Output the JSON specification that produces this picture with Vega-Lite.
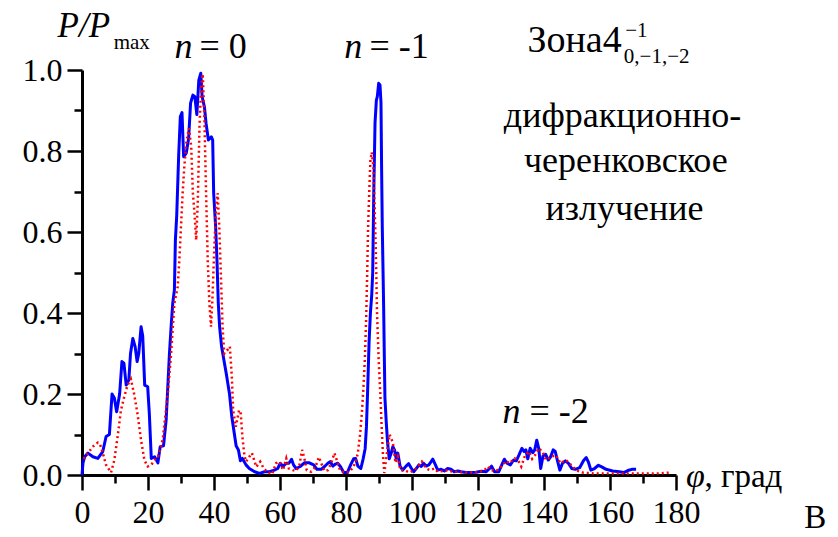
{
  "$schema": "https://vega.github.io/schema/vega-lite/v6.json",
  "width": 594,
  "height": 405,
  "autosize": {"type": "none"},
  "padding": {"left": 82, "top": 70, "right": 162, "bottom": 62},
  "background": "white",
  "config": {"view": {"stroke": null}},
  "datasets": {
    "blue": [
      {"phi":0,"p":0.0},{"phi":0.3,"p":0.03},{"phi":0.8,"p":0.045},{"phi":1.8,"p":0.054},{"phi":3.3,"p":0.045},{"phi":4.8,"p":0.041},{"phi":6.3,"p":0.058},{"phi":7.3,"p":0.095},{"phi":8.3,"p":0.10},{"phi":9.1,"p":0.20},{"phi":9.8,"p":0.19},{"phi":10.5,"p":0.156},{"phi":11.4,"p":0.20},{"phi":12.1,"p":0.28},{"phi":12.7,"p":0.276},{"phi":13.4,"p":0.222},{"phi":14.2,"p":0.235},{"phi":14.7,"p":0.30},{"phi":15.4,"p":0.337},{"phi":16.1,"p":0.317},{"phi":16.7,"p":0.28},{"phi":17.2,"p":0.30},{"phi":17.9,"p":0.366},{"phi":18.4,"p":0.343},{"phi":19.0,"p":0.222},{"phi":19.9,"p":0.218},{"phi":20.4,"p":0.152},{"phi":21.0,"p":0.041},{"phi":22.0,"p":0.045},{"phi":23.0,"p":0.030},{"phi":23.7,"p":0.07},{"phi":24.7,"p":0.072},{"phi":25.5,"p":0.136},{"phi":26.0,"p":0.218},{"phi":26.5,"p":0.30},{"phi":27.0,"p":0.366},{"phi":27.5,"p":0.424},{"phi":28.0,"p":0.457},{"phi":28.3,"p":0.58},{"phi":28.7,"p":0.64},{"phi":29.3,"p":0.79},{"phi":29.8,"p":0.885},{"phi":30.3,"p":0.895},{"phi":30.8,"p":0.786},{"phi":31.6,"p":0.795},{"phi":32.3,"p":0.83},{"phi":32.9,"p":0.918},{"phi":33.6,"p":0.938},{"phi":34.2,"p":0.934},{"phi":34.8,"p":0.89},{"phi":35.4,"p":0.975},{"phi":36.0,"p":0.992},{"phi":36.4,"p":0.934},{"phi":37.1,"p":0.909},{"phi":37.6,"p":0.868},{"phi":38.3,"p":0.827},{"phi":39.2,"p":0.835},{"phi":39.6,"p":0.827},{"phi":39.9,"p":0.696},{"phi":40.5,"p":0.613},{"phi":40.9,"p":0.531},{"phi":41.3,"p":0.424},{"phi":41.7,"p":0.366},{"phi":42.3,"p":0.317},{"phi":43.0,"p":0.284},{"phi":43.7,"p":0.251},{"phi":44.7,"p":0.20},{"phi":45.4,"p":0.144},{"phi":46.2,"p":0.10},{"phi":46.7,"p":0.072},{"phi":47.4,"p":0.062},{"phi":48.0,"p":0.035},{"phi":48.6,"p":0.041},{"phi":49.7,"p":0.025},{"phi":50.7,"p":0.016},{"phi":52.3,"p":0.008},{"phi":53.8,"p":0.004},{"phi":55.3,"p":0.008},{"phi":56.8,"p":0.008},{"phi":58.3,"p":0.012},{"phi":59.3,"p":0.016},{"phi":60.1,"p":0.029},{"phi":60.9,"p":0.021},{"phi":61.9,"p":0.029},{"phi":62.7,"p":0.029},{"phi":63.5,"p":0.039},{"phi":64.1,"p":0.025},{"phi":64.9,"p":0.016},{"phi":66.1,"p":0.021},{"phi":67.4,"p":0.030},{"phi":68.9,"p":0.030},{"phi":70.2,"p":0.025},{"phi":71.2,"p":0.014},{"phi":72.5,"p":0.014},{"phi":73.5,"p":0.021},{"phi":74.5,"p":0.029},{"phi":75.2,"p":0.033},{"phi":76.0,"p":0.022},{"phi":76.8,"p":0.027},{"phi":77.5,"p":0.029},{"phi":78.3,"p":0.021},{"phi":79.3,"p":0.006},{"phi":80.4,"p":0.006},{"phi":81.4,"p":0.025},{"phi":82.3,"p":0.040},{"phi":82.9,"p":0.041},{"phi":83.6,"p":0.022},{"phi":84.5,"p":0.016},{"phi":85.2,"p":0.04},{"phi":85.8,"p":0.065},{"phi":86.2,"p":0.12},{"phi":86.6,"p":0.22},{"phi":87.0,"p":0.33},{"phi":87.4,"p":0.40},{"phi":87.8,"p":0.445},{"phi":88.1,"p":0.50},{"phi":88.4,"p":0.69},{"phi":88.8,"p":0.87},{"phi":89.2,"p":0.925},{"phi":89.5,"p":0.935},{"phi":89.9,"p":0.967},{"phi":90.3,"p":0.963},{"phi":90.6,"p":0.92},{"phi":90.8,"p":0.75},{"phi":91.0,"p":0.61},{"phi":91.4,"p":0.42},{"phi":91.6,"p":0.30},{"phi":91.8,"p":0.19},{"phi":92.2,"p":0.13},{"phi":92.6,"p":0.08},{"phi":93.1,"p":0.04},{"phi":93.7,"p":0.054},{"phi":94.2,"p":0.07},{"phi":94.7,"p":0.062},{"phi":95.2,"p":0.041},{"phi":95.7,"p":0.054},{"phi":96.4,"p":0.021},{"phi":97.2,"p":0.012},{"phi":98.2,"p":0.022},{"phi":99.0,"p":0.028},{"phi":99.7,"p":0.018},{"phi":100.5,"p":0.008},{"phi":101.3,"p":0.016},{"phi":102.1,"p":0.025},{"phi":102.8,"p":0.021},{"phi":103.5,"p":0.029},{"phi":104.3,"p":0.022},{"phi":105.1,"p":0.025},{"phi":105.8,"p":0.033},{"phi":106.3,"p":0.039},{"phi":107.1,"p":0.025},{"phi":107.8,"p":0.012},{"phi":108.8,"p":0.014},{"phi":109.8,"p":0.010},{"phi":110.8,"p":0.016},{"phi":111.8,"p":0.014},{"phi":112.8,"p":0.008},{"phi":113.9,"p":0.010},{"phi":114.9,"p":0.008},{"phi":116.4,"p":0.006},{"phi":117.9,"p":0.006},{"phi":119.4,"p":0.007},{"phi":121.0,"p":0.009},{"phi":122.5,"p":0.008},{"phi":123.5,"p":0.016},{"phi":124.1,"p":0.022},{"phi":125.0,"p":0.008},{"phi":126.3,"p":0.008},{"phi":127.2,"p":0.025},{"phi":128.0,"p":0.039},{"phi":128.8,"p":0.029},{"phi":129.8,"p":0.025},{"phi":130.8,"p":0.037},{"phi":131.6,"p":0.035},{"phi":132.4,"p":0.049},{"phi":133.3,"p":0.066},{"phi":134.0,"p":0.058},{"phi":134.5,"p":0.062},{"phi":135.1,"p":0.040},{"phi":135.8,"p":0.066},{"phi":136.6,"p":0.055},{"phi":137.2,"p":0.062},{"phi":137.8,"p":0.086},{"phi":138.4,"p":0.066},{"phi":139.0,"p":0.016},{"phi":139.7,"p":0.047},{"phi":140.5,"p":0.051},{"phi":141.3,"p":0.037},{"phi":142.0,"p":0.045},{"phi":142.8,"p":0.062},{"phi":143.4,"p":0.058},{"phi":144.1,"p":0.035},{"phi":144.8,"p":0.012},{"phi":145.6,"p":0.029},{"phi":146.5,"p":0.035},{"phi":147.5,"p":0.028},{"phi":148.4,"p":0.016},{"phi":149.5,"p":0.014},{"phi":150.8,"p":0.018},{"phi":152.0,"p":0.036},{"phi":152.8,"p":0.043},{"phi":153.5,"p":0.031},{"phi":154.2,"p":0.012},{"phi":155.3,"p":0.016},{"phi":156.5,"p":0.024},{"phi":157.5,"p":0.020},{"phi":158.8,"p":0.014},{"phi":160.8,"p":0.010},{"phi":162.8,"p":0.008},{"phi":164.2,"p":0.006},{"phi":165.4,"p":0.011},{"phi":166.6,"p":0.014},{"phi":167.9,"p":0.014}
    ],
    "red": [
      {"phi":0.5,"p":0.04},{"phi":1.8,"p":0.054},{"phi":3.3,"p":0.07},{"phi":4.8,"p":0.08},{"phi":5.5,"p":0.075},{"phi":6.3,"p":0.054},{"phi":7.3,"p":0.025},{"phi":8.8,"p":0.006},{"phi":9.8,"p":0.037},{"phi":10.8,"p":0.095},{"phi":11.8,"p":0.16},{"phi":12.8,"p":0.193},{"phi":13.8,"p":0.222},{"phi":14.8,"p":0.237},{"phi":15.8,"p":0.20},{"phi":16.8,"p":0.152},{"phi":17.9,"p":0.086},{"phi":18.9,"p":0.037},{"phi":19.9,"p":0.021},{"phi":21.0,"p":0.025},{"phi":22.0,"p":0.037},{"phi":23.0,"p":0.045},{"phi":23.7,"p":0.062},{"phi":24.5,"p":0.09},{"phi":25.0,"p":0.128},{"phi":26.0,"p":0.20},{"phi":27.0,"p":0.30},{"phi":28.0,"p":0.424},{"phi":29.0,"p":0.465},{"phi":29.5,"p":0.531},{"phi":30.0,"p":0.613},{"phi":30.5,"p":0.696},{"phi":31.0,"p":0.761},{"phi":31.7,"p":0.827},{"phi":32.4,"p":0.856},{"phi":33.1,"p":0.81},{"phi":33.6,"p":0.696},{"phi":34.1,"p":0.646},{"phi":34.6,"p":0.58},{"phi":35.1,"p":0.679},{"phi":35.6,"p":0.86},{"phi":36.1,"p":0.959},{"phi":36.6,"p":0.99},{"phi":37.1,"p":0.877},{"phi":37.6,"p":0.696},{"phi":38.1,"p":0.531},{"phi":38.6,"p":0.424},{"phi":39.1,"p":0.366},{"phi":39.6,"p":0.449},{"phi":40.1,"p":0.564},{"phi":40.6,"p":0.654},{"phi":41.1,"p":0.696},{"phi":41.6,"p":0.613},{"phi":42.1,"p":0.49},{"phi":42.6,"p":0.366},{"phi":43.1,"p":0.30},{"phi":44.1,"p":0.309},{"phi":44.8,"p":0.317},{"phi":45.4,"p":0.243},{"phi":45.8,"p":0.16},{"phi":46.6,"p":0.119},{"phi":47.6,"p":0.16},{"phi":48.1,"p":0.152},{"phi":48.6,"p":0.095},{"phi":49.2,"p":0.049},{"phi":49.7,"p":0.033},{"phi":50.7,"p":0.045},{"phi":51.5,"p":0.054},{"phi":52.8,"p":0.02},{"phi":54.0,"p":0.033},{"phi":55.1,"p":0.016},{"phi":56.1,"p":0.008},{"phi":57.6,"p":0.002},{"phi":58.8,"p":0.029},{"phi":59.8,"p":0.033},{"phi":60.9,"p":0.012},{"phi":61.9,"p":0.041},{"phi":62.7,"p":0.016},{"phi":63.9,"p":0.012},{"phi":64.9,"p":0.010},{"phi":65.9,"p":0.025},{"phi":66.7,"p":0.062},{"phi":67.4,"p":0.041},{"phi":68.1,"p":0.012},{"phi":69.4,"p":0.008},{"phi":70.8,"p":0.021},{"phi":71.8,"p":0.044},{"phi":72.5,"p":0.029},{"phi":73.5,"p":0.010},{"phi":74.5,"p":0.012},{"phi":75.5,"p":0.029},{"phi":76.5,"p":0.054},{"phi":77.2,"p":0.037},{"phi":78.2,"p":0.012},{"phi":79.5,"p":0.006},{"phi":81.1,"p":0.008},{"phi":82.3,"p":0.021},{"phi":83.0,"p":0.035},{"phi":83.6,"p":0.054},{"phi":84.3,"p":0.103},{"phi":84.8,"p":0.152},{"phi":85.3,"p":0.218},{"phi":85.7,"p":0.284},{"phi":86.1,"p":0.383},{"phi":86.4,"p":0.49},{"phi":86.7,"p":0.613},{"phi":87.1,"p":0.712},{"phi":87.4,"p":0.778},{"phi":87.8,"p":0.797},{"phi":88.3,"p":0.761},{"phi":88.7,"p":0.66},{"phi":89.1,"p":0.53},{"phi":89.4,"p":0.40},{"phi":89.9,"p":0.284},{"phi":90.4,"p":0.20},{"phi":90.8,"p":0.12},{"phi":91.2,"p":0.05},{"phi":91.6,"p":0.005},{"phi":92.5,"p":0.06},{"phi":93.2,"p":0.10},{"phi":94.2,"p":0.08},{"phi":95.0,"p":0.03},{"phi":95.7,"p":0.045},{"phi":96.5,"p":0.012},{"phi":97.7,"p":0.012},{"phi":99.2,"p":0.006},{"phi":100.7,"p":0.012},{"phi":102.2,"p":0.025},{"phi":103.0,"p":0.033},{"phi":104.3,"p":0.016},{"phi":105.5,"p":0.012},{"phi":106.8,"p":0.016},{"phi":107.8,"p":0.008},{"phi":109.3,"p":0.010},{"phi":110.8,"p":0.012},{"phi":112.3,"p":0.008},{"phi":113.8,"p":0.008},{"phi":116.4,"p":0.006},{"phi":118.4,"p":0.006},{"phi":120.5,"p":0.008},{"phi":122.0,"p":0.012},{"phi":123.0,"p":0.021},{"phi":124.0,"p":0.012},{"phi":125.5,"p":0.010},{"phi":126.5,"p":0.016},{"phi":127.5,"p":0.025},{"phi":128.5,"p":0.035},{"phi":129.5,"p":0.029},{"phi":131.1,"p":0.041},{"phi":132.1,"p":0.037},{"phi":133.1,"p":0.021},{"phi":134.2,"p":0.047},{"phi":135.4,"p":0.058},{"phi":136.4,"p":0.040},{"phi":137.3,"p":0.049},{"phi":138.4,"p":0.066},{"phi":139.6,"p":0.057},{"phi":140.6,"p":0.037},{"phi":142.1,"p":0.045},{"phi":143.6,"p":0.049},{"phi":145.0,"p":0.029},{"phi":146.6,"p":0.037},{"phi":148.2,"p":0.025},{"phi":149.7,"p":0.012},{"phi":151.7,"p":0.006},{"phi":155,"p":0.004},{"phi":160,"p":0.004},{"phi":165,"p":0.004},{"phi":170,"p":0.004},{"phi":175,"p":0.004},{"phi":178,"p":0.006}
    ],
    "annItalic": [
      {"t":"n","x":28.0,"y":1.029},
      {"t":"n","x":79.5,"y":1.029},
      {"t":"n","x":127.4,"y":0.128}
    ],
    "annUpright": [
      {"t":"= 0","x":35.6,"y":1.029},
      {"t":"= -1","x":87.1,"y":1.029},
      {"t":"= -2","x":135.6,"y":0.128}
    ],
    "annZone": [
      {"t":"Зона4","x":135.0,"y":1.044}
    ],
    "annSmall": [
      {"t":"−1","x":164.6,"y":1.0815},
      {"t":"0,−1,−2","x":164.2,"y":1.0173},
      {"t":"max","x":9.6,"y":1.052}
    ],
    "annPP": [
      {"t":"P/P","x":-7.4,"y":1.0815}
    ],
    "annCenter": [
      {"t":"дифракционно-","x":163.8,"y":0.8593},
      {"t":"черенковское","x":164.8,"y":0.7481},
      {"t":"излучение","x":164.4,"y":0.6296}
    ],
    "annAxis": [
      {"t":", град","x":188.6,"y":-0.0296},
      {"t":"В","x":218.9,"y":-0.131}
    ],
    "annPhi": [
      {"t":"φ","x":183.0,"y":-0.0296}
    ]
  },
  "layer": [
    {
      "data": {"name": "blue"},
      "mark": {"type": "line", "color": "#0000ff", "strokeWidth": 3, "strokeJoin": "round"},
      "encoding": {
        "x": {"field": "phi", "type": "quantitative",
          "scale": {"domain": [0, 180], "nice": false, "zero": false},
          "axis": {"orient": "bottom", "values": [0,20,40,60,80,100,120,140,160,180], "format": "d",
            "tickSize": 15, "tickWidth": 2.5, "tickColor": "#000", "domainColor": "#000", "domainWidth": 3,
            "labelFont": "Liberation Serif, serif", "labelFontSize": 32, "labelColor": "#000", "labelPadding": 7,
            "labelFlush": false, "labelOverlap": false, "grid": false, "title": null}},
        "y": {"field": "p", "type": "quantitative",
          "scale": {"domain": [0, 1], "nice": false, "zero": false},
          "axis": {"orient": "left", "values": [0,0.2,0.4,0.6,0.8,1.0], "format": ".1f",
            "tickSize": 15, "tickWidth": 2.5, "tickColor": "#000", "domainColor": "#000", "domainWidth": 3,
            "labelFont": "Liberation Serif, serif", "labelFontSize": 32, "labelColor": "#000", "labelPadding": 5,
            "labelFlush": false, "labelOverlap": false, "grid": false, "title": null}}
      }
    },
    {
      "data": {"name": "red"},
      "mark": {"type": "line", "color": "#ff0000", "strokeWidth": 2.5, "strokeDash": [2, 3]},
      "encoding": {
        "x": {"field": "phi", "type": "quantitative",
          "scale": {"domain": [0, 180], "nice": false, "zero": false},
          "axis": {"orient": "bottom", "values": [10,30,50,70,90,110,130,150,170], "labels": false, "domain": false,
            "tickSize": 8, "tickWidth": 2.5, "tickColor": "#000", "grid": false, "title": null}},
        "y": {"field": "p", "type": "quantitative",
          "scale": {"domain": [0, 1], "nice": false, "zero": false},
          "axis": {"orient": "left", "values": [0.1,0.3,0.5,0.7,0.9], "labels": false, "domain": false,
            "tickSize": 8, "tickWidth": 2.5, "tickColor": "#000", "grid": false, "title": null}}
      }
    },
    {
      "data": {"name": "annItalic"},
      "mark": {"type": "text", "font": "Liberation Serif, serif", "fontStyle": "italic", "fontSize": 36, "align": "left", "baseline": "alphabetic", "color": "#000"},
      "encoding": {
        "x": {"field": "x", "type": "quantitative", "axis": null},
        "y": {"field": "y", "type": "quantitative", "axis": null},
        "text": {"field": "t"}
      }
    },
    {
      "data": {"name": "annUpright"},
      "mark": {"type": "text", "font": "Liberation Serif, serif", "fontSize": 36, "align": "left", "baseline": "alphabetic", "color": "#000"},
      "encoding": {
        "x": {"field": "x", "type": "quantitative", "axis": null},
        "y": {"field": "y", "type": "quantitative", "axis": null},
        "text": {"field": "t"}
      }
    },
    {
      "data": {"name": "annZone"},
      "mark": {"type": "text", "font": "Liberation Serif, serif", "fontSize": 38, "align": "left", "baseline": "alphabetic", "color": "#000"},
      "encoding": {
        "x": {"field": "x", "type": "quantitative", "axis": null},
        "y": {"field": "y", "type": "quantitative", "axis": null},
        "text": {"field": "t"}
      }
    },
    {
      "data": {"name": "annSmall"},
      "mark": {"type": "text", "font": "Liberation Serif, serif", "fontSize": 21, "align": "left", "baseline": "alphabetic", "color": "#000"},
      "encoding": {
        "x": {"field": "x", "type": "quantitative", "axis": null},
        "y": {"field": "y", "type": "quantitative", "axis": null},
        "text": {"field": "t"}
      }
    },
    {
      "data": {"name": "annPP"},
      "mark": {"type": "text", "font": "Liberation Serif, serif", "fontStyle": "italic", "fontSize": 35, "align": "left", "baseline": "alphabetic", "color": "#000"},
      "encoding": {
        "x": {"field": "x", "type": "quantitative", "axis": null},
        "y": {"field": "y", "type": "quantitative", "axis": null},
        "text": {"field": "t"}
      }
    },
    {
      "data": {"name": "annCenter"},
      "mark": {"type": "text", "font": "Liberation Serif, serif", "fontSize": 36, "align": "center", "baseline": "alphabetic", "color": "#000"},
      "encoding": {
        "x": {"field": "x", "type": "quantitative", "axis": null},
        "y": {"field": "y", "type": "quantitative", "axis": null},
        "text": {"field": "t"}
      }
    },
    {
      "data": {"name": "annAxis"},
      "mark": {"type": "text", "font": "Liberation Serif, serif", "fontSize": 33, "align": "left", "baseline": "alphabetic", "color": "#000"},
      "encoding": {
        "x": {"field": "x", "type": "quantitative", "axis": null},
        "y": {"field": "y", "type": "quantitative", "axis": null},
        "text": {"field": "t"}
      }
    },
    {
      "data": {"name": "annPhi"},
      "mark": {"type": "text", "font": "Liberation Serif, serif", "fontStyle": "italic", "fontSize": 34, "align": "left", "baseline": "alphabetic", "color": "#000"},
      "encoding": {
        "x": {"field": "x", "type": "quantitative", "axis": null},
        "y": {"field": "y", "type": "quantitative", "axis": null},
        "text": {"field": "t"}
      }
    }
  ],
  "resolve": {"axis": {"x": "independent", "y": "independent"}}
}
